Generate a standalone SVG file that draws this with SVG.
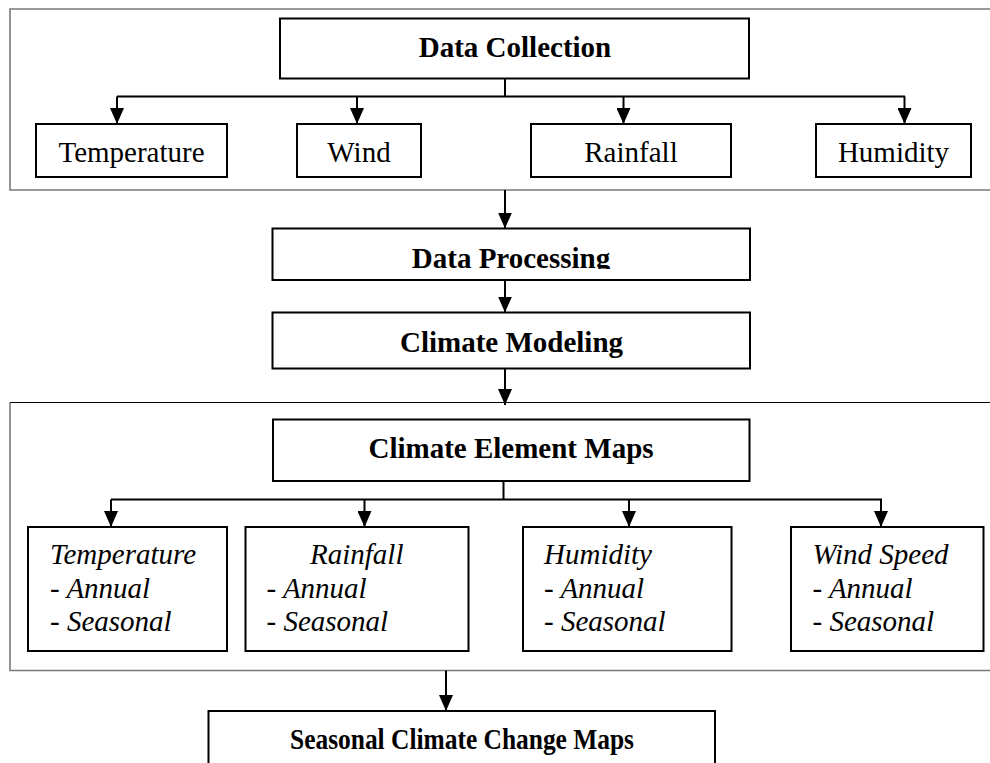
<svg xmlns="http://www.w3.org/2000/svg" width="990" height="763" viewBox="0 0 990 763">
<defs>
<marker id="ah" markerUnits="userSpaceOnUse" viewBox="0 0 16 14" refX="16" refY="7" markerWidth="16" markerHeight="14" orient="auto">
<path d="M0,0 L16,7 L0,14 z" fill="#000"/>
</marker>
<clipPath id="dpclip"><rect x="272" y="229" width="478" height="40"/></clipPath>
</defs>
<style>
.frame{fill:none;stroke:#7a7a7a;stroke-width:1.6}
.box{fill:#fff;stroke:#000;stroke-width:2}
.conn{fill:none;stroke:#000;stroke-width:2}
.arr{fill:none;stroke:#000;stroke-width:2;marker-end:url(#ah)}
.t{font-family:"Liberation Serif","Times New Roman",serif;font-size:29px;fill:#000}
.b{font-weight:bold;text-anchor:middle}
.r{text-anchor:middle}
.i{font-style:italic}
</style>
<rect width="990" height="763" fill="#fff"/>

<g id="frame-collection">
<path class="frame" d="M1000,9 H10 V190 H1000"/>
</g>
<g id="frame-maps">
<path class="frame" d="M10,402.5 V670.5 H1000"/>
<line x1="10" y1="402.5" x2="1000" y2="402.5" stroke="#000" stroke-width="1.2"/>
</g>

<g id="connectors">
<path class="conn" d="M505,78 V96.5 M117,96.5 H905"/>
<line class="arr" x1="117" y1="96.5" x2="117" y2="124"/>
<line class="arr" x1="357" y1="96.5" x2="357" y2="124"/>
<line class="arr" x1="623.5" y1="96.5" x2="623.5" y2="124"/>
<line class="arr" x1="904.5" y1="96.5" x2="904.5" y2="124"/>
<line class="arr" x1="505" y1="190" x2="505" y2="228.5"/>
<line class="arr" x1="505" y1="280" x2="505" y2="312.5"/>
<line class="arr" x1="505" y1="368" x2="505" y2="405"/>
<path class="conn" d="M503.5,481 V499.5 M111,499.5 H882"/>
<line class="arr" x1="111" y1="499.5" x2="111" y2="527"/>
<line class="arr" x1="364.5" y1="499.5" x2="364.5" y2="527"/>
<line class="arr" x1="629" y1="499.5" x2="629" y2="527"/>
<line class="arr" x1="881" y1="499.5" x2="881" y2="527"/>
<line class="arr" x1="446" y1="670.5" x2="446" y2="711"/>
</g>

<g id="data-collection">
<rect class="box" x="280" y="18.5" width="469" height="60"/>
<text class="t b" x="515" y="57">Data Collection</text>
</g>
<g id="temperature">
<rect class="box" x="36" y="124" width="191" height="53"/>
<text class="t r" x="131.5" y="162">Temperature</text>
</g>
<g id="wind">
<rect class="box" x="297" y="124" width="124" height="53"/>
<text class="t r" x="359" y="162">Wind</text>
</g>
<g id="rainfall">
<rect class="box" x="531" y="124" width="200" height="53"/>
<text class="t r" x="631" y="162">Rainfall</text>
</g>
<g id="humidity">
<rect class="box" x="816" y="124" width="155" height="53"/>
<text class="t r" x="893.5" y="162">Humidity</text>
</g>

<g id="data-processing">
<rect class="box" x="272.5" y="228.5" width="477.5" height="51.5"/>
<text class="t b" x="511" y="267.5" clip-path="url(#dpclip)">Data Processing</text>
</g>
<g id="climate-modeling">
<rect class="box" x="272.5" y="312.5" width="477.5" height="56"/>
<text class="t b" x="511.5" y="351.5">Climate Modeling</text>
</g>

<g id="climate-element-maps">
<rect class="box" x="273" y="419.5" width="476.5" height="61.5"/>
<text class="t b" x="511" y="457.5">Climate Element Maps</text>
</g>
<g id="map-temperature">
<rect class="box" x="28" y="527" width="199" height="124"/>
<text class="t i" x="50" y="564">Temperature</text>
<text class="t i" x="50" y="597.5">- Annual</text>
<text class="t i" x="50" y="631">- Seasonal</text>
</g>
<g id="map-rainfall">
<rect class="box" x="245.5" y="527" width="223" height="124"/>
<text class="t i" x="310" y="564">Rainfall</text>
<text class="t i" x="266.5" y="597.5">- Annual</text>
<text class="t i" x="266.5" y="631">- Seasonal</text>
</g>
<g id="map-humidity">
<rect class="box" x="523" y="527" width="208.5" height="124"/>
<text class="t i" x="544" y="564">Humidity</text>
<text class="t i" x="544" y="597.5">- Annual</text>
<text class="t i" x="544" y="631">- Seasonal</text>
</g>
<g id="map-wind-speed">
<rect class="box" x="791" y="527" width="192.5" height="124"/>
<text class="t i" x="812.5" y="564">Wind Speed</text>
<text class="t i" x="812.5" y="597.5">- Annual</text>
<text class="t i" x="812.5" y="631">- Seasonal</text>
</g>

<g id="seasonal-climate-change-maps">
<rect class="box" x="208.5" y="711" width="506.5" height="70"/>
<text class="t b" x="462" y="748.5" textLength="344" lengthAdjust="spacingAndGlyphs">Seasonal Climate Change Maps</text>
</g>
</svg>
